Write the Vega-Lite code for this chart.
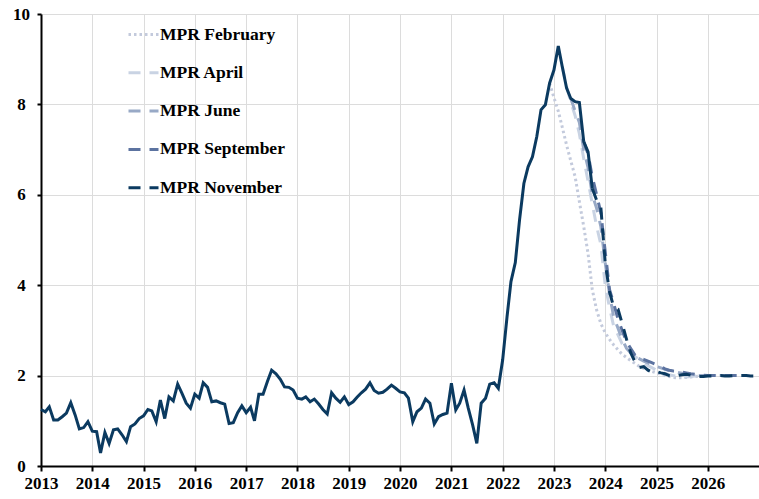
{
  "$schema": "https://vega.github.io/schema/vega-lite/v6.json",
  "width": 718,
  "height": 452,
  "autosize": {"type": "none"},
  "padding": {"left": 41, "top": 14, "right": 0, "bottom": 33},
  "background": "white",
  "config": {
    "view": {"stroke": null},
    "font": "Liberation Serif",
    "axis": {"labelFont": "Liberation Serif", "labelFontWeight": "bold", "labelFontSize": 17, "labelColor": "black", "gridColor": "#dcdcdc", "gridWidth": 1, "domainColor": "black", "domainWidth": 2, "tickColor": "black", "tickWidth": 2, "title": null}
  },
  "datasets": {
    "outcome": [
      {"d":"2013-01","v":1.25},{"d":"2013-02","v":1.20},{"d":"2013-03","v":1.31},{"d":"2013-04","v":1.02},{"d":"2013-05","v":1.02},{"d":"2013-06","v":1.09},{"d":"2013-07","v":1.17},{"d":"2013-08","v":1.40},{"d":"2013-09","v":1.13},{"d":"2013-10","v":0.82},{"d":"2013-11","v":0.85},{"d":"2013-12","v":0.98},
      {"d":"2014-01","v":0.77},{"d":"2014-02","v":0.76},{"d":"2014-03","v":0.29},{"d":"2014-04","v":0.74},{"d":"2014-05","v":0.50},{"d":"2014-06","v":0.80},{"d":"2014-07","v":0.82},{"d":"2014-08","v":0.69},{"d":"2014-09","v":0.54},{"d":"2014-10","v":0.87},{"d":"2014-11","v":0.93},{"d":"2014-12","v":1.05},
      {"d":"2015-01","v":1.11},{"d":"2015-02","v":1.25},{"d":"2015-03","v":1.22},{"d":"2015-04","v":0.98},{"d":"2015-05","v":1.46},{"d":"2015-06","v":1.05},{"d":"2015-07","v":1.53},{"d":"2015-08","v":1.44},{"d":"2015-09","v":1.81},{"d":"2015-10","v":1.61},{"d":"2015-11","v":1.39},{"d":"2015-12","v":1.28},
      {"d":"2016-01","v":1.59},{"d":"2016-02","v":1.50},{"d":"2016-03","v":1.84},{"d":"2016-04","v":1.74},{"d":"2016-05","v":1.42},{"d":"2016-06","v":1.44},{"d":"2016-07","v":1.40},{"d":"2016-08","v":1.37},{"d":"2016-09","v":0.94},{"d":"2016-10","v":0.96},{"d":"2016-11","v":1.18},{"d":"2016-12","v":1.33},
      {"d":"2017-01","v":1.18},{"d":"2017-02","v":1.30},{"d":"2017-03","v":1.00},{"d":"2017-04","v":1.59},{"d":"2017-05","v":1.59},{"d":"2017-06","v":1.87},{"d":"2017-07","v":2.12},{"d":"2017-08","v":2.04},{"d":"2017-09","v":1.92},{"d":"2017-10","v":1.75},{"d":"2017-11","v":1.74},{"d":"2017-12","v":1.68},
      {"d":"2018-01","v":1.50},{"d":"2018-02","v":1.48},{"d":"2018-03","v":1.53},{"d":"2018-04","v":1.42},{"d":"2018-05","v":1.48},{"d":"2018-06","v":1.37},{"d":"2018-07","v":1.25},{"d":"2018-08","v":1.15},{"d":"2018-09","v":1.62},{"d":"2018-10","v":1.50},{"d":"2018-11","v":1.41},{"d":"2018-12","v":1.53},
      {"d":"2019-01","v":1.36},{"d":"2019-02","v":1.42},{"d":"2019-03","v":1.52},{"d":"2019-04","v":1.62},{"d":"2019-05","v":1.70},{"d":"2019-06","v":1.84},{"d":"2019-07","v":1.67},{"d":"2019-08","v":1.61},{"d":"2019-09","v":1.63},{"d":"2019-10","v":1.70},{"d":"2019-11","v":1.79},{"d":"2019-12","v":1.72},
      {"d":"2020-01","v":1.64},{"d":"2020-02","v":1.62},{"d":"2020-03","v":1.50},{"d":"2020-04","v":0.98},{"d":"2020-05","v":1.20},{"d":"2020-06","v":1.28},{"d":"2020-07","v":1.48},{"d":"2020-08","v":1.39},{"d":"2020-09","v":0.93},{"d":"2020-10","v":1.09},{"d":"2020-11","v":1.14},{"d":"2020-12","v":1.17},
      {"d":"2021-01","v":1.83},{"d":"2021-02","v":1.24},{"d":"2021-03","v":1.39},{"d":"2021-04","v":1.68},{"d":"2021-05","v":1.28},{"d":"2021-06","v":0.91},{"d":"2021-07","v":0.50},{"d":"2021-08","v":1.39},{"d":"2021-09","v":1.50},{"d":"2021-10","v":1.81},{"d":"2021-11","v":1.84},{"d":"2021-12","v":1.72},
      {"d":"2022-01","v":2.35},{"d":"2022-02","v":3.30},{"d":"2022-03","v":4.08},{"d":"2022-04","v":4.50},{"d":"2022-05","v":5.44},{"d":"2022-06","v":6.25},{"d":"2022-07","v":6.62},{"d":"2022-08","v":6.84},{"d":"2022-09","v":7.29},{"d":"2022-10","v":7.88},{"d":"2022-11","v":7.99},{"d":"2022-12","v":8.47},
      {"d":"2023-01","v":8.76},{"d":"2023-02","v":9.29},{"d":"2023-03","v":8.84},{"d":"2023-04","v":8.36},{"d":"2023-05","v":8.13},{"d":"2023-06","v":8.06},{"d":"2023-07","v":8.04},{"d":"2023-08","v":7.18},{"d":"2023-09","v":6.95},{"d":"2023-10","v":6.14}
    ],
    "forecasts": [
      {"s":"MPR February","d":"2022-12","v":8.47},{"s":"MPR February","d":"2023-01","v":8.15},{"s":"MPR February","d":"2023-02","v":7.85},{"s":"MPR February","d":"2023-03","v":7.5},{"s":"MPR February","d":"2023-04","v":7.1},{"s":"MPR February","d":"2023-05","v":6.75},{"s":"MPR February","d":"2023-06","v":6.4},{"s":"MPR February","d":"2023-07","v":5.85},{"s":"MPR February","d":"2023-08","v":5.3},{"s":"MPR February","d":"2023-09","v":4.7},{"s":"MPR February","d":"2023-10","v":3.9},{"s":"MPR February","d":"2023-11","v":3.45},{"s":"MPR February","d":"2023-12","v":3.15},{"s":"MPR February","d":"2024-01","v":2.95},{"s":"MPR February","d":"2024-02","v":2.8},{"s":"MPR February","d":"2024-03","v":2.68},{"s":"MPR February","d":"2024-04","v":2.57},{"s":"MPR February","d":"2024-05","v":2.47},{"s":"MPR February","d":"2024-06","v":2.4},{"s":"MPR February","d":"2024-07","v":2.33},{"s":"MPR February","d":"2024-08","v":2.27},{"s":"MPR February","d":"2024-09","v":2.2},{"s":"MPR February","d":"2024-10","v":2.16},{"s":"MPR February","d":"2024-11","v":2.12},{"s":"MPR February","d":"2024-12","v":2.09},{"s":"MPR February","d":"2025-01","v":2.06},{"s":"MPR February","d":"2025-02","v":2.03},{"s":"MPR February","d":"2025-03","v":2.0},{"s":"MPR February","d":"2025-04","v":1.98},{"s":"MPR February","d":"2025-05","v":1.96},{"s":"MPR February","d":"2025-06","v":1.95},{"s":"MPR February","d":"2025-07","v":1.95},{"s":"MPR February","d":"2025-08","v":1.96},{"s":"MPR February","d":"2025-09","v":1.97},{"s":"MPR February","d":"2025-10","v":1.98},{"s":"MPR February","d":"2025-11","v":1.99},{"s":"MPR February","d":"2025-12","v":2.0},{"s":"MPR February","d":"2026-01","v":2.0},{"s":"MPR February","d":"2026-02","v":2.0},{"s":"MPR February","d":"2026-03","v":2.0},
      {"s":"MPR April","d":"2023-03","v":8.84},{"s":"MPR April","d":"2023-04","v":8.4},{"s":"MPR April","d":"2023-05","v":8.05},{"s":"MPR April","d":"2023-06","v":7.75},{"s":"MPR April","d":"2023-07","v":7.35},{"s":"MPR April","d":"2023-08","v":6.8},{"s":"MPR April","d":"2023-09","v":6.3},{"s":"MPR April","d":"2023-10","v":5.8},{"s":"MPR April","d":"2023-11","v":5.3},{"s":"MPR April","d":"2023-12","v":4.9},{"s":"MPR April","d":"2024-01","v":4.0},{"s":"MPR April","d":"2024-02","v":3.5},{"s":"MPR April","d":"2024-03","v":3.1},{"s":"MPR April","d":"2024-04","v":2.9},{"s":"MPR April","d":"2024-05","v":2.7},{"s":"MPR April","d":"2024-06","v":2.6},{"s":"MPR April","d":"2024-07","v":2.5},{"s":"MPR April","d":"2024-08","v":2.42},{"s":"MPR April","d":"2024-09","v":2.35},{"s":"MPR April","d":"2024-10","v":2.28},{"s":"MPR April","d":"2024-11","v":2.22},{"s":"MPR April","d":"2024-12","v":2.17},{"s":"MPR April","d":"2025-01","v":2.12},{"s":"MPR April","d":"2025-02","v":2.08},{"s":"MPR April","d":"2025-03","v":2.05},{"s":"MPR April","d":"2025-04","v":2.02},{"s":"MPR April","d":"2025-05","v":2.0},{"s":"MPR April","d":"2025-06","v":1.98},{"s":"MPR April","d":"2025-07","v":1.97},{"s":"MPR April","d":"2025-08","v":1.97},{"s":"MPR April","d":"2025-09","v":1.98},{"s":"MPR April","d":"2025-10","v":1.99},{"s":"MPR April","d":"2025-11","v":2.0},{"s":"MPR April","d":"2025-12","v":2.0},{"s":"MPR April","d":"2026-01","v":2.0},{"s":"MPR April","d":"2026-02","v":2.0},{"s":"MPR April","d":"2026-03","v":2.0},
      {"s":"MPR June","d":"2023-05","v":8.13},{"s":"MPR June","d":"2023-06","v":7.85},{"s":"MPR June","d":"2023-07","v":7.6},{"s":"MPR June","d":"2023-08","v":7.0},{"s":"MPR June","d":"2023-09","v":6.6},{"s":"MPR June","d":"2023-10","v":6.0},{"s":"MPR June","d":"2023-11","v":5.7},{"s":"MPR June","d":"2023-12","v":5.3},{"s":"MPR June","d":"2024-01","v":4.5},{"s":"MPR June","d":"2024-02","v":3.8},{"s":"MPR June","d":"2024-03","v":3.3},{"s":"MPR June","d":"2024-04","v":3.05},{"s":"MPR June","d":"2024-05","v":2.8},{"s":"MPR June","d":"2024-06","v":2.6},{"s":"MPR June","d":"2024-07","v":2.5},{"s":"MPR June","d":"2024-08","v":2.42},{"s":"MPR June","d":"2024-09","v":2.37},{"s":"MPR June","d":"2024-10","v":2.32},{"s":"MPR June","d":"2024-11","v":2.28},{"s":"MPR June","d":"2024-12","v":2.24},{"s":"MPR June","d":"2025-01","v":2.2},{"s":"MPR June","d":"2025-02","v":2.17},{"s":"MPR June","d":"2025-03","v":2.14},{"s":"MPR June","d":"2025-04","v":2.11},{"s":"MPR June","d":"2025-05","v":2.09},{"s":"MPR June","d":"2025-06","v":2.07},{"s":"MPR June","d":"2025-07","v":2.05},{"s":"MPR June","d":"2025-08","v":2.03},{"s":"MPR June","d":"2025-09","v":2.02},{"s":"MPR June","d":"2025-10","v":2.01},{"s":"MPR June","d":"2025-11","v":2.0},{"s":"MPR June","d":"2025-12","v":2.0},{"s":"MPR June","d":"2026-01","v":2.0},{"s":"MPR June","d":"2026-02","v":2.0},{"s":"MPR June","d":"2026-03","v":2.0},{"s":"MPR June","d":"2026-04","v":2.0},{"s":"MPR June","d":"2026-05","v":2.0},{"s":"MPR June","d":"2026-06","v":2.0},
      {"s":"MPR September","d":"2023-08","v":7.18},{"s":"MPR September","d":"2023-09","v":6.9},{"s":"MPR September","d":"2023-10","v":6.4},{"s":"MPR September","d":"2023-11","v":6.0},{"s":"MPR September","d":"2023-12","v":5.6},{"s":"MPR September","d":"2024-01","v":4.75},{"s":"MPR September","d":"2024-02","v":3.9},{"s":"MPR September","d":"2024-03","v":3.6},{"s":"MPR September","d":"2024-04","v":3.25},{"s":"MPR September","d":"2024-05","v":3.0},{"s":"MPR September","d":"2024-06","v":2.75},{"s":"MPR September","d":"2024-07","v":2.6},{"s":"MPR September","d":"2024-08","v":2.45},{"s":"MPR September","d":"2024-09","v":2.38},{"s":"MPR September","d":"2024-10","v":2.36},{"s":"MPR September","d":"2024-11","v":2.32},{"s":"MPR September","d":"2024-12","v":2.28},{"s":"MPR September","d":"2025-01","v":2.24},{"s":"MPR September","d":"2025-02","v":2.2},{"s":"MPR September","d":"2025-03","v":2.15},{"s":"MPR September","d":"2025-04","v":2.12},{"s":"MPR September","d":"2025-05","v":2.1},{"s":"MPR September","d":"2025-06","v":2.09},{"s":"MPR September","d":"2025-07","v":2.08},{"s":"MPR September","d":"2025-08","v":2.06},{"s":"MPR September","d":"2025-09","v":2.04},{"s":"MPR September","d":"2025-10","v":2.03},{"s":"MPR September","d":"2025-11","v":2.02},{"s":"MPR September","d":"2025-12","v":2.01},{"s":"MPR September","d":"2026-01","v":2.0},{"s":"MPR September","d":"2026-02","v":2.0},{"s":"MPR September","d":"2026-03","v":2.0},{"s":"MPR September","d":"2026-04","v":2.0},{"s":"MPR September","d":"2026-05","v":2.0},{"s":"MPR September","d":"2026-06","v":2.0},{"s":"MPR September","d":"2026-07","v":2.0},{"s":"MPR September","d":"2026-08","v":2.0},{"s":"MPR September","d":"2026-09","v":2.0},
      {"s":"MPR November","d":"2023-10","v":6.14},{"s":"MPR November","d":"2023-11","v":5.88},{"s":"MPR November","d":"2023-12","v":5.72},{"s":"MPR November","d":"2024-01","v":4.5},{"s":"MPR November","d":"2024-02","v":3.85},{"s":"MPR November","d":"2024-03","v":3.52},{"s":"MPR November","d":"2024-04","v":3.47},{"s":"MPR November","d":"2024-05","v":3.15},{"s":"MPR November","d":"2024-06","v":2.8},{"s":"MPR November","d":"2024-07","v":2.5},{"s":"MPR November","d":"2024-08","v":2.3},{"s":"MPR November","d":"2024-09","v":2.18},{"s":"MPR November","d":"2024-10","v":2.2},{"s":"MPR November","d":"2024-11","v":2.12},{"s":"MPR November","d":"2024-12","v":2.07},{"s":"MPR November","d":"2025-01","v":2.09},{"s":"MPR November","d":"2025-02","v":2.06},{"s":"MPR November","d":"2025-03","v":2.04},{"s":"MPR November","d":"2025-04","v":2.0},{"s":"MPR November","d":"2025-05","v":1.99},{"s":"MPR November","d":"2025-06","v":2.0},{"s":"MPR November","d":"2025-07","v":2.02},{"s":"MPR November","d":"2025-08","v":2.03},{"s":"MPR November","d":"2025-09","v":2.01},{"s":"MPR November","d":"2025-10","v":1.99},{"s":"MPR November","d":"2025-11","v":1.98},{"s":"MPR November","d":"2025-12","v":1.98},{"s":"MPR November","d":"2026-01","v":1.99},{"s":"MPR November","d":"2026-02","v":1.99},{"s":"MPR November","d":"2026-03","v":2.0},{"s":"MPR November","d":"2026-04","v":2.0},{"s":"MPR November","d":"2026-05","v":1.99},{"s":"MPR November","d":"2026-06","v":1.99},{"s":"MPR November","d":"2026-07","v":2.0},{"s":"MPR November","d":"2026-08","v":2.0},{"s":"MPR November","d":"2026-09","v":2.0},{"s":"MPR November","d":"2026-10","v":2.0},{"s":"MPR November","d":"2026-11","v":1.99},{"s":"MPR November","d":"2026-12","v":1.99}
    ]
  },
  "encoding": {
    "x": {
      "field": "d", "type": "temporal",
      "scale": {"type": "utc", "domain": [{"year": 2013, "month": 1, "date": 1, "utc": true}, {"year": 2026, "month": 12, "date": 31, "utc": true}]},
      "axis": {"format": "%Y", "formatType": "utc", "tickCount": {"interval": "year", "step": 1}, "tickSize": 5, "labelPadding": 4, "labelAlign": "center", "grid": true, "labelFlush": false, "labelOverlap": false}
    },
    "y": {
      "field": "v", "type": "quantitative",
      "scale": {"domain": [0, 10], "nice": false, "zero": true},
      "axis": {"values": [0, 2, 4, 6, 8, 10], "tickSize": 4, "labelPadding": 16, "labelAlign": "center", "grid": true}
    }
  },
  "layer": [
    {
      "data": {"name": "forecasts"},
      "mark": {"type": "line", "strokeWidth": 3},
      "encoding": {
        "color": {
          "field": "s", "type": "nominal",
          "scale": {"domain": ["MPR February", "MPR April", "MPR June", "MPR September", "MPR November"], "range": ["#c3cadc", "#c9d3e3", "#98a9c6", "#5c73a0", "#0b3a60"]},
          "legend": {"title": null, "orient": "none", "legendX": 86, "legendY": 4, "symbolType": "stroke", "symbolSize": 900, "symbolStrokeWidth": 3, "labelFont": "Liberation Serif", "labelFontWeight": "bold", "labelFontSize": 17.5, "labelColor": "black", "labelOffset": 0, "rowPadding": 13.3}
        },
        "strokeDash": {
          "field": "s", "type": "nominal",
          "scale": {"domain": ["MPR February", "MPR April", "MPR June", "MPR September", "MPR November"], "range": [[2.5, 3], [12, 9], [12, 9], [12, 9], [12, 9]]},
          "legend": {"title": null, "orient": "none", "legendX": 86, "legendY": 4, "symbolType": "stroke", "symbolSize": 900, "symbolStrokeWidth": 3, "labelFont": "Liberation Serif", "labelFontWeight": "bold", "labelFontSize": 17.5, "labelColor": "black", "labelOffset": 0, "rowPadding": 13.3}
        },
        "order": {"field": "d"}
      }
    },
    {
      "data": {"name": "outcome"},
      "mark": {"type": "line", "strokeWidth": 3, "color": "#0b3a60"},
      "encoding": {}
    }
  ]
}
